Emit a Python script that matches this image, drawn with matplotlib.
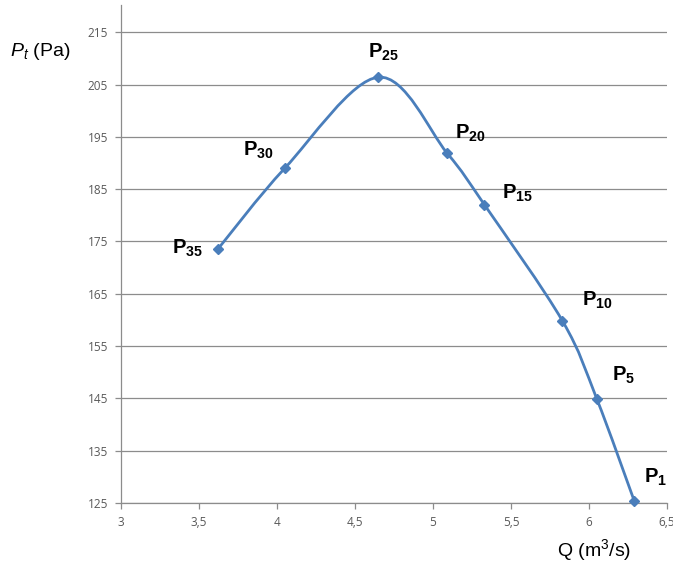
import matplotlib
matplotlib.use("Agg")
import matplotlib.pyplot as plt
from matplotlib.path import Path
from matplotlib.patches import PathPatch
from matplotlib.ticker import FuncFormatter
import numpy as np

# data
labels = ["35", "30", "25", "20", "15", "10", "5", "1"]
q = [3.62, 4.05, 4.65, 5.09, 5.33, 5.83, 6.05, 6.29]
pt = [173.5, 189.0, 206.4, 191.9, 182.0, 159.8, 144.9, 125.4]
x_ticks = [3, 3.5, 4, 4.5, 5, 5.5, 6, 6.5]
y_ticks = [125, 135, 145, 155, 165, 175, 185, 195, 205, 215]
# label offsets in points (dx, dy)
label_offsets = [(-22, 1), (-19, 13), (4, 18), (17, 14), (24, 8), (25, 15), (19, 17), (15, 17)]

plt.rcParams['mathtext.fontset'] = 'custom'
plt.rcParams['mathtext.rm'] = 'Liberation Sans'
plt.rcParams['mathtext.it'] = 'Liberation Sans:italic'
plt.rcParams['mathtext.bf'] = 'Liberation Sans:bold'

fig = plt.figure(figsize=(6.73, 5.68), dpi=100)
ax = fig.add_axes([121/673, 1-503/568, (667-121)/673, (503-5)/568])

ax.set_xlim(3, 6.5)
ax.set_ylim(125, 220.2)
ax.set_xticks(x_ticks)
ax.set_yticks(y_ticks)
fmt = FuncFormatter(lambda v, p: ("%g" % v).replace(".", ","))
ax.xaxis.set_major_formatter(fmt)
ax.yaxis.set_major_formatter(fmt)
ax.grid(axis='y', color='#8c8c8c', linewidth=0.9)
ax.set_axisbelow(True)
for s in ['top', 'right']:
    ax.spines[s].set_visible(False)
for s in ['left', 'bottom']:
    ax.spines[s].set_color('#8c8c8c')
    ax.spines[s].set_linewidth(0.9)
ax.tick_params(colors='#8c8c8c', length=4.5, width=0.9, labelcolor='#595959',
               labelsize=8.5, pad=5)
for t in ax.get_xticklabels() + ax.get_yticklabels():
    t.set_fontfamily('Open Sans')

# smoothed curve (Catmull-Rom style Bezier through the data points)
P = np.column_stack([q, pt])
n = len(P)
verts = [tuple(P[0])]
codes = [Path.MOVETO]
for i in range(n - 1):
    p0 = P[i - 1] if i > 0 else P[i]
    p1 = P[i]
    p2 = P[i + 1]
    p3 = P[i + 2] if i + 2 < n else P[i + 1]
    c1 = p1 + (p2 - p0) / 6.0
    c2 = p2 - (p3 - p1) / 6.0
    verts += [tuple(c1), tuple(c2), tuple(p2)]
    codes += [Path.CURVE4] * 3
patch = PathPatch(Path(verts, codes), facecolor='none', edgecolor='#4a7ebb',
                  linewidth=2.0, capstyle='round', joinstyle='round', zorder=3)
ax.add_patch(patch)
ax.plot(q, pt, linestyle='none', marker='D', markersize=5, color='#4a7ebb', zorder=4,
        clip_on=False)

for lab, x, y, (dx, dy) in zip(labels, q, pt, label_offsets):
    ax.annotate(r'$\mathbf{P_{%s}}$' % lab, (x, y), xytext=(dx, dy),
                textcoords='offset points', ha='center', va='center',
                fontsize=14.5, annotation_clip=False)

fig.text(40/673, 1-52/568, r'$P_t$ (Pa)', fontsize=14, family='Liberation Sans',
         ha='center', va='center')
fig.text(594/673, 1-550/568, r'Q (m$^3$/s)', fontsize=14, family='Liberation Sans',
         ha='center', va='center')

fig.savefig('out.png', dpi=100)
